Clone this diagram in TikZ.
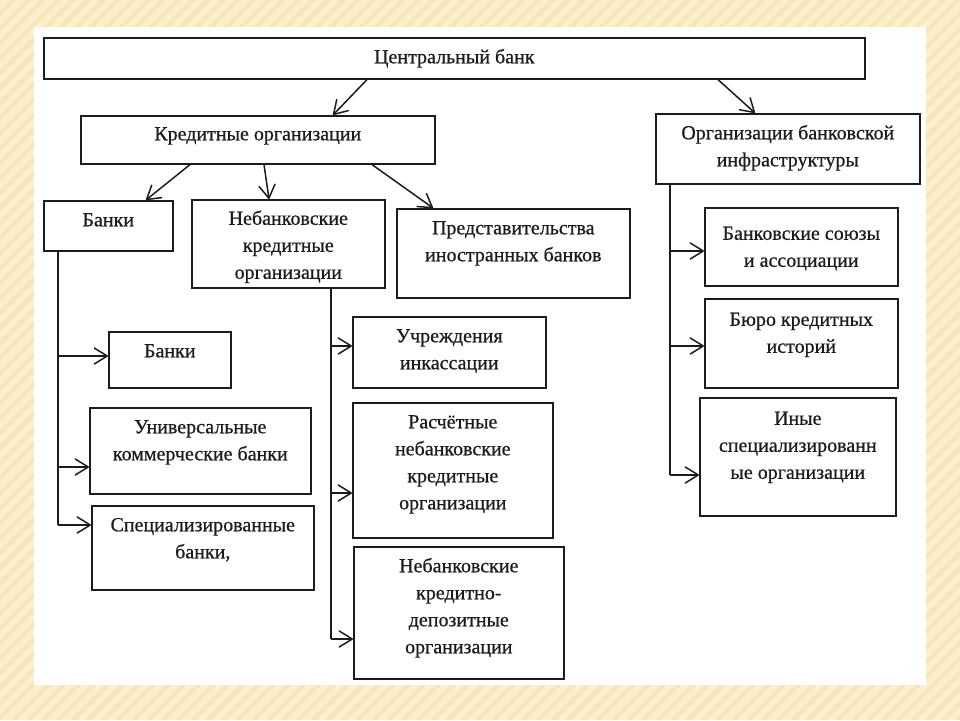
\documentclass[tikz,border=0pt]{standalone}
\usepackage{fontspec}
\setmainfont{Liberation Serif}
\newfontfamily\inkfont[FakeBold=0.6]{Liberation Serif}
\usetikzlibrary{arrows.meta,calc}
\definecolor{bgbeige}{RGB}{251,240,205}
\definecolor{bgstripe}{RGB}{240,216,140}
\definecolor{ink}{RGB}{28,28,28}
\newcommand{\bxtext}[4][25.5pt]{\parbox[c][#3][t]{#2}{\centering\rule{0pt}{#1}#4\par}}
\tikzset{
  bx/.style={draw=ink, line width=1.6pt, inner sep=0pt, anchor=north west,
             font=\inkfont\fontsize{20}{27}\selectfont, text=ink},
  ln/.style={draw=ink, line width=1.5pt},
  arr/.style={ln, -{Straight Barb[length=13pt,width=16pt,round]}}
}
\begin{document}
\begin{tikzpicture}[x=1pt,y=-1pt]
\useasboundingbox (0,0) rectangle (960,720);
% background
\fill[bgbeige] (0,0) rectangle (960,720);
\begin{scope}
  \clip (0,0) rectangle (960,720);
  \foreach \i in {-800,-785,...,960}
    \fill[bgstripe,opacity=0.35] (\i,720) -- (\i+6,720) -- (\i+726,0) -- (\i+720,0) -- cycle;
\end{scope}
\fill[white] (34,27) rectangle (926,685);

% nodes
\node[bx] (cb)  at (43,37)   {\bxtext{821pt}{41pt}{Центральный банк}};
\node[bx] (ko)  at (80,115)  {\bxtext[24.5pt]{354pt}{48pt}{Кредитные организации}};
\node[bx] (obi) at (655,113) {\bxtext{264pt}{70pt}{Организации банковской\\инфраструктуры}};
\node[bx] (bk)  at (43,200)  {\bxtext{129pt}{50pt}{Банки}};
\node[bx] (nko) at (191,199) {\bxtext[25pt]{193pt}{88pt}{Небанковские\\кредитные\\организации}};
\node[bx] (pib) at (396,208) {\bxtext{233pt}{89pt}{Представительства\\иностранных банков}};
\node[bx] (b2)  at (108,331) {\bxtext{122pt}{56pt}{Банки}};
\node[bx] (b3)  at (89,407)  {\bxtext{221pt}{86pt}{Универсальные\\коммерческие банки}};
\node[bx] (b4)  at (91,505)  {\bxtext{222pt}{84pt}{Специализированные\\банки,}};
\node[bx] (n1)  at (352,316) {\bxtext{193pt}{71pt}{Учреждения\\инкассации}};
\node[bx] (n2)  at (352,402) {\bxtext{200pt}{135pt}{Расчётные\\небанковские\\кредитные\\организации}};
\node[bx] (n3)  at (353,546) {\bxtext{210pt}{132pt}{Небанковские\\кредитно-\\депозитные\\организации}};
\node[bx] (i1)  at (704,207) {\bxtext[32pt]{193pt}{78pt}{Банковские союзы\\и ассоциации}};
\node[bx] (i2)  at (704,298) {\bxtext[27pt]{193pt}{89pt}{Бюро кредитных\\историй}};
\node[bx] (i3)  at (699,397) {\bxtext[27pt]{196pt}{118pt}{Иные\\специализированн\\ые организации}};

% arrows from central bank
\draw[arr] (cb.south -| 367,0) -- (ko.north -| 333,0);
\draw[arr] (cb.south -| 718,0) -- (obi.north -| 755,0);
% arrows from credit organisations
\draw[arr] (ko.south -| 190,0) -- (bk.north -| 146,0);
\draw[arr] (ko.south -| 264,0) -- (nko.north -| 269,0);
\draw[arr] (ko.south -| 372,0) -- (pib.north -| 433,0);

% banks trunk
\coordinate (bkA) at (58,356);
\coordinate (bkB) at (58,467);
\coordinate (bkC) at (58,525);
\draw[ln] (bk.south -| bkC) -- (bkC);
\draw[arr] (bkA) -- (b2.west |- bkA);
\draw[arr] (bkB) -- (b3.west |- bkB);
\draw[arr] (bkC) -- (b4.west |- bkC);

% non-bank trunk
\coordinate (nA) at (331,346);
\coordinate (nB) at (331,493);
\coordinate (nC) at (331,639);
\draw[ln] (nko.south -| nC) -- (nC);
\draw[arr] (nA) -- (n1.west |- nA);
\draw[arr] (nB) -- (n2.west |- nB);
\draw[arr] (nC) -- (n3.west |- nC);

% infrastructure trunk
\coordinate (iA) at (670,251);
\coordinate (iB) at (670,346);
\coordinate (iC) at (670,475);
\draw[ln] (obi.south -| iC) -- (iC);
\draw[arr] (iA) -- (i1.west |- iA);
\draw[arr] (iB) -- (i2.west |- iB);
\draw[arr] (iC) -- (i3.west |- iC);
\end{tikzpicture}
\end{document}
